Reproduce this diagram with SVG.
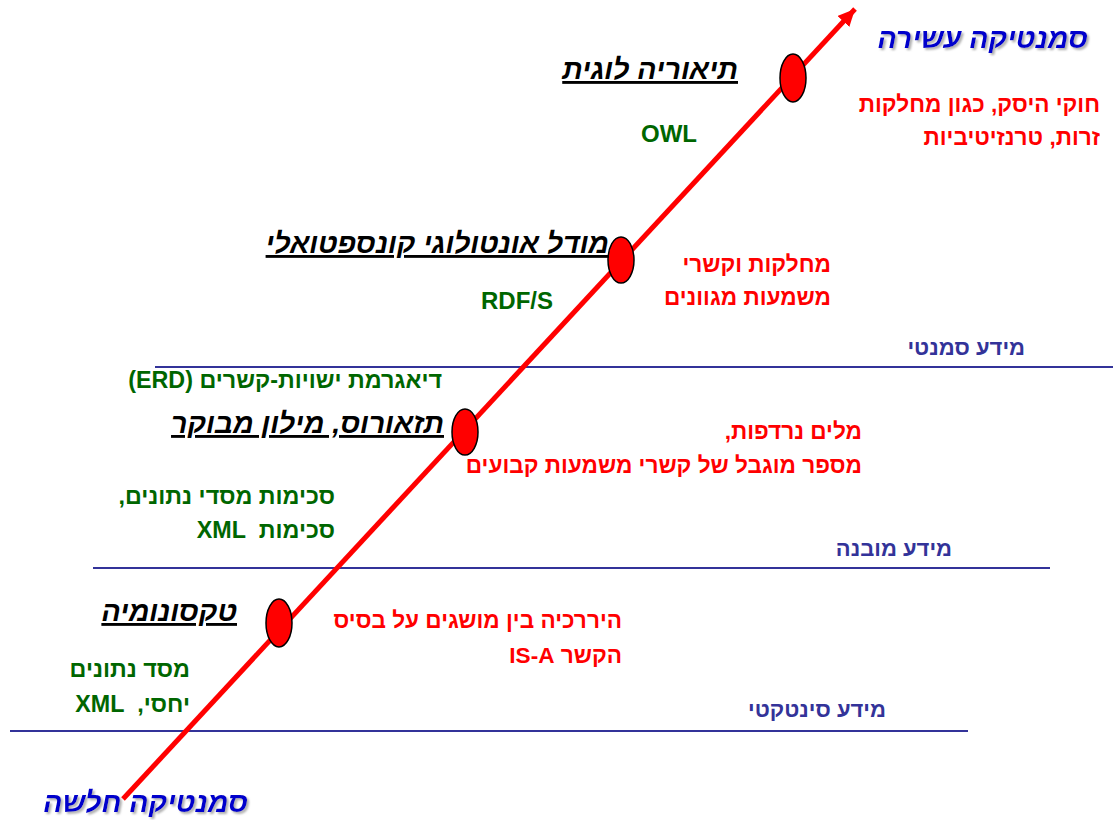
<svg xmlns="http://www.w3.org/2000/svg" width="1113" height="820" viewBox="0 0 1113 820">
<style>
text{font-family:"Liberation Sans","DejaVu Sans",Arial,sans-serif;font-weight:bold;direction:rtl;text-anchor:start;unicode-bidi:embed;white-space:pre}
.red{fill:#ff0000;font-size:22.6px}
.green{fill:#006600;font-size:23.3px}
.green.lat{font-size:24px;direction:ltr;text-anchor:middle}
.navy{fill:#333399;font-size:22px}
.title{fill:#000;font-size:28.5px;font-style:italic;text-decoration:underline}
.big{fill:#0000cc;font-size:28.5px;font-style:italic;filter:url(#sh)}
.sep{stroke:#333399;stroke-width:2}
.node{fill:#ff0000;stroke:#000;stroke-width:1.5}
</style>
<defs>
<marker id="ah" markerUnits="userSpaceOnUse" markerWidth="20" markerHeight="20" refX="17" refY="8" orient="auto">
<path d="M0,0 L17,8 L0,16 Z" fill="#ff0000"/>
</marker>
<filter id="sh" x="-5%" y="-20%" width="115%" height="150%">
<feDropShadow dx="2" dy="2" stdDeviation="0.8" flood-color="#999" flood-opacity="0.8"/>
</filter>
</defs>
<g id="separators">
<line class="sep" x1="155" y1="367" x2="1113" y2="367"/>
<line class="sep" x1="93" y1="568" x2="1050" y2="568"/>
<line class="sep" x1="10" y1="731" x2="968" y2="731"/>
</g>
<g id="connectors">
<line x1="123" y1="799" x2="855" y2="9" stroke="#ff0000" stroke-width="5" marker-end="url(#ah)"/>
</g>
<g id="node-logic">
<ellipse class="node" cx="793" cy="78" rx="13" ry="24"/>
<text class="title" x="738" y="79">תיאוריה לוגית</text>
<text class="green lat" x="669" y="142">OWL</text>
<text class="red" x="1100" y="112">חוקי היסק, כגון מחלקות</text>
<text class="red" x="1100" y="145">זרות, טרנזיטיביות</text>
</g>
<g id="node-ontology">
<ellipse class="node" cx="621" cy="260" rx="13" ry="23"/>
<text class="title" x="609" y="253">מודל אונטולוגי קונספטואלי</text>
<text class="green lat" x="517" y="309">RDF/S</text>
<text class="red" x="831" y="272">מחלקות וקשרי</text>
<text class="red" x="831" y="305">משמעות מגוונים</text>
</g>
<g id="node-thesaurus">
<ellipse class="node" cx="465" cy="432" rx="13" ry="23"/>
<text class="title" x="444" y="433">תזאורוס, מילון מבוקר</text>
<text class="green" x="442" y="388">דיאגרמת ישויות-קשרים (ERD)</text>
<text class="green" x="335" y="504">סכימות מסדי נתונים,</text>
<text class="green" x="335" y="538">סכימות  XML</text>
<text class="red" x="862" y="439">מלים נרדפות,</text>
<text class="red" x="862" y="473">מספר מוגבל של קשרי משמעות קבועים</text>
</g>
<g id="node-taxonomy">
<ellipse class="node" cx="279" cy="623" rx="13" ry="24"/>
<text class="title" x="237" y="621">טקסונומיה</text>
<text class="green" x="190" y="677">מסד נתונים</text>
<text class="green" x="190" y="712">יחסי,  XML</text>
<text class="red" x="622" y="628">היררכיה בין מושגים על בסיס</text>
<text class="red" x="622" y="663">הקשר IS-A</text>
</g>
<g id="levels">
<text class="navy" x="1025" y="355">מידע סמנטי</text>
<text class="navy" x="952" y="556">מידע מובנה</text>
<text class="navy" x="886" y="717">מידע סינטקטי</text>
</g>
<g id="extremes">
<text class="big" x="1088" y="48">סמנטיקה עשירה</text>
<text class="big" x="248" y="812">סמנטיקה חלשה</text>
</g>
</svg>
